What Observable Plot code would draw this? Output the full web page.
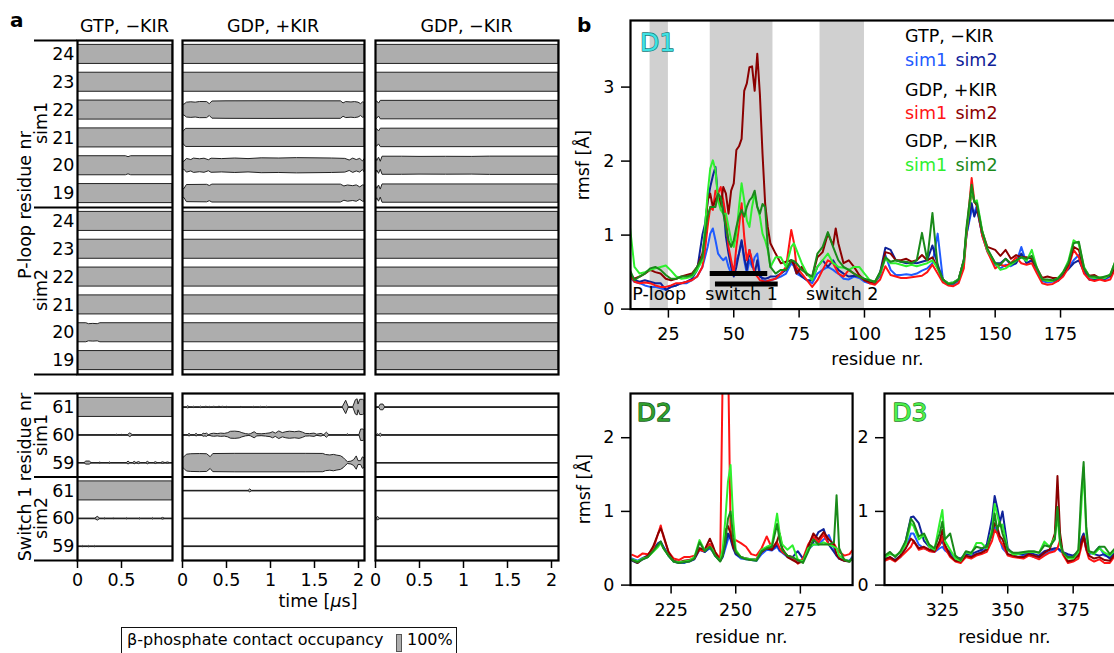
<!DOCTYPE html>
<html><head><meta charset="utf-8">
<script src="https://cdn.jsdelivr.net/npm/d3@7"></script>
<script src="https://cdn.jsdelivr.net/npm/@observablehq/plot@0.6"></script>
<style>
html,body{margin:0;padding:0;background:#fff;overflow:hidden;}
#fig{position:relative;width:1114px;height:653px;overflow:hidden;font-family:"DejaVu Sans",sans-serif;color:#000;background:#fff;}
#fig svg{position:absolute;}
.t{position:absolute;white-space:nowrap;line-height:1;font-size:17.5px;}
</style></head><body><div id="fig"></div>
<script>
// ---------------- DATA: panel a (beta-phosphate contact occupancy) ----------------
const sims = ["sim1", "sim2"];
const ploopResidues = [24, 23, 22, 21, 20, 19];
const switchResidues = [61, 60, 59];
const conditions = ["GTP, −KIR", "GDP, +KIR", "GDP, −KIR"];
const simLength = [1.08, 2.07, 2.08]; // µs
const timeTicks = [[0, 0.5], [0, 0.5, 1, 1.5, 2], [0, 0.5, 1, 1.5, 2]];

// [time µs, occupancy]; P-loop rows not listed = 100 % throughout, switch rows not listed = 0
const ploopOccGtp = {
  "sim1:20": [[0,1],[0.55,1],[0.58,0.9],[0.61,1],[1.08,1]],
  "sim2:20": [[0,1],[0.1,1],[0.13,0.9],[0.18,0.93],[0.23,0.9],[0.26,1],[1.08,1]]
};
const ploopOccKirPlus = {
  "sim1:22": [[0,0.72],[0.02,0.55],[0.05,0.78],[0.1,0.82],[0.15,0.78],[0.2,0.85],[0.28,0.84],[0.31,0.62],[0.34,0.9],[0.5,0.92],[1.0,0.93],[1.5,0.92],[1.8,0.92],[1.83,0.7],[1.86,0.84],[1.92,0.8],[1.96,0.84],[2.0,0.78],[2.03,0.62],[2.05,0.8],[2.07,0.78]],
  "sim1:21": [[0,0.6],[0.02,0.72],[0.04,0.95],[2.07,0.95]],
  "sim1:20": [[0,0.55],[0.02,0.4],[0.05,0.72],[0.1,0.6],[0.13,0.75],[0.2,0.68],[0.25,0.74],[0.3,0.58],[0.33,0.74],[0.45,0.7],[0.6,0.76],[0.75,0.7],[0.9,0.78],[1.1,0.76],[1.3,0.8],[1.5,0.78],[1.7,0.76],[1.85,0.72],[1.9,0.55],[1.94,0.75],[1.98,0.6],[2.02,0.72],[2.05,0.45],[2.07,0.7]],
  "sim1:19": [[0,0.55],[0.02,0.45],[0.05,0.9],[0.28,0.92],[0.31,0.8],[0.34,0.94],[1.8,0.94],[1.84,0.75],[1.88,0.85],[1.94,0.78],[1.98,0.86],[2.02,0.65],[2.05,0.85],[2.07,0.85]]
};
const ploopOccKirMinus = {
  "sim1:22": [[0,0.95],[0.02,0.9],[0.04,0.68],[0.06,0.97],[2.08,0.97]],
  "sim1:21": [[0,0.95],[0.02,0.9],[0.04,0.68],[0.06,0.97],[2.08,0.97]],
  "sim1:20": [[0,0.9],[0.02,0.5],[0.04,0.85],[0.06,0.42],[0.08,0.95],[0.3,0.95],[0.5,0.93],[0.8,0.94],[1.1,0.93],[1.3,0.96],[2.08,0.96]],
  "sim1:19": [[0,0.9],[0.02,0.5],[0.04,0.85],[0.06,0.42],[0.08,0.96],[2.08,0.96]]
};
const switchOccGtp = {
  "sim1:61": [[0,1],[1.08,1]],
  "sim1:60": [[0,0],[0.44,0],[0.45,0.06],[0.46,0],[0.5,0],[0.51,0.06],[0.52,0],[0.57,0],[0.6,0.2],[0.63,0],[1.08,0]],
  "sim1:59": [[0,0],[0.08,0],[0.1,0.16],[0.14,0.16],[0.16,0],[0.25,0],[0.26,0.07],[0.27,0],[0.36,0],[0.37,0.07],[0.38,0],[0.56,0],[0.58,0.16],[0.6,0],[0.63,0],[0.65,0.13],[0.67,0],[0.7,0.11],[0.72,0],[0.78,0],[0.8,0.13],[0.82,0],[0.87,0],[0.89,0.1],[0.91,0],[0.95,0],[0.97,0.09],[1.0,0],[1.03,0.07],[1.05,0],[1.08,0]],
  "sim2:61": [[0,1],[1.08,1]],
  "sim2:60": [[0,0],[0.2,0],[0.23,0.2],[0.26,0],[0.3,0],[0.31,0.07],[0.32,0],[0.4,0],[0.41,0.07],[0.42,0],[0.55,0],[0.56,0.07],[0.57,0],[0.7,0],[0.71,0.07],[0.72,0],[0.85,0],[0.86,0.08],[0.87,0],[0.95,0],[0.97,0.09],[1.0,0],[1.08,0]],
  "sim2:59": [[0,0],[0.05,0],[0.06,0.07],[0.07,0],[0.12,0],[0.13,0.07],[0.14,0],[0.19,0],[0.2,0.07],[0.21,0],[1.08,0]]
};
const switchOccKirPlus = {
  "sim1:61": [[0,0],[0.05,0],[0.065,0.14],[0.08,0],[0.12,0],[0.13,0.07],[0.14,0],[0.2,0],[0.21,0.08],[0.22,0],[0.26,0],[0.27,0.11],[0.28,0],[0.3,0],[0.31,0.07],[0.32,0],[0.35,0],[0.36,0.11],[0.37,0],[0.41,0],[0.42,0.11],[0.43,0],[0.45,0],[0.46,0.11],[0.47,0],[0.5,0],[0.51,0.09],[0.52,0],[0.66,0],[0.67,0.08],[0.68,0],[0.8,0],[0.81,0.07],[0.82,0],[0.88,0],[0.89,0.07],[0.9,0],[0.95,0],[0.96,0.07],[0.97,0],[1.82,0],[1.86,0.7],[1.89,0],[1.94,0],[1.97,0.75],[1.99,0.85],[2.0,0.3],[2.02,0.8],[2.05,0.8],[2.07,0.7]],
  "sim1:60": [[0,0],[0.06,0],[0.08,0.14],[0.1,0],[0.14,0],[0.16,0.14],[0.18,0],[0.22,0],[0.24,0.16],[0.26,0.12],[0.28,0.17],[0.3,0],[0.33,0.12],[0.36,0.16],[0.4,0.12],[0.44,0.17],[0.48,0.14],[0.52,0.22],[0.55,0.36],[0.6,0.38],[0.65,0.33],[0.68,0.22],[0.72,0.12],[0.76,0.07],[0.78,0.12],[0.82,0.32],[0.85,0.12],[0.9,0.1],[0.95,0.14],[1.0,0.2],[1.03,0.32],[1.06,0.17],[1.1,0.4],[1.14,0.22],[1.18,0.32],[1.22,0.37],[1.28,0.32],[1.33,0.38],[1.37,0.27],[1.4,0.14],[1.45,0.12],[1.5,0.17],[1.53,0.06],[1.58,0.14],[1.61,0],[1.64,0.27],[1.67,0],[1.87,0],[1.88,0.12],[1.89,0],[2.01,0],[2.03,0.6],[2.06,0.6],[2.07,0.5]],
  "sim1:59": [[0,0.45],[0.02,0.6],[0.05,0.88],[0.1,0.93],[0.2,0.95],[0.28,0.93],[0.32,0.62],[0.35,0.95],[0.6,0.97],[1.0,0.97],[1.4,0.97],[1.6,0.96],[1.63,0.85],[1.68,0.8],[1.72,0.86],[1.76,0.78],[1.8,0.72],[1.83,0.55],[1.85,0.35],[1.88,0.1],[1.92,0.15],[1.95,0.3],[1.98,0.7],[2.0,0.2],[2.03,0.2],[2.05,0.6],[2.07,0.5]],
  "sim2:61": [[0,0],[0.75,0],[0.77,0.16],[0.79,0],[2.07,0]]
};
const switchOccKirMinus = {
  "sim1:61": [[0,0],[0.04,0],[0.06,0.3],[0.09,0.3],[0.11,0],[2.08,0]],
  "sim1:60": [[0,0],[0.02,0],[0.03,0.12],[0.04,0],[0.06,0.16],[0.08,0],[2.08,0]],
  "sim2:60": [[0,0],[0.01,0],[0.03,0.2],[0.05,0],[2.08,0]]
};

// ---------------- DATA: panel b (rmsf, Å) ----------------
const d1Res = [10,12,14,16,18,20,22,24,26,28,30,32,34,36,38,
 39,40,41,42,43,44,45,46,47,48,49,50,51,52,53,54,55,56,57,58,59,60,61,62,63,64,
 66,68,70,72,73,74,76,78,80,82,84,86,88,89,90,92,94,96,98,100,102,104,
 106,108,110,112,114,116,118,120,122,124,126,128,130,132,134,136,138,
 139,141,142,143,145,147,
 150,152,154,156,158,160,162,164,166,168,170,172,174,176,178,180,182,184,186,188,190,192,194,196];
const d1GtpSim1 = [0.44,0.37,0.35,0.32,0.30,0.30,0.28,0.26,0.30,0.32,0.35,0.35,0.39,0.44,0.57,
 0.70,0.84,1.02,1.09,0.93,0.75,0.70,0.66,0.70,0.57,0.48,0.53,0.66,0.75,0.91,0.66,0.48,0.66,0.57,0.70,0.75,0.48,0.39,0.38,0.38,0.39,
 0.41,0.44,0.48,0.62,0.58,0.48,0.44,0.39,0.35,0.48,0.53,0.57,0.53,0.50,0.48,0.41,0.40,0.44,0.42,0.37,0.35,0.36,
 0.45,0.73,0.53,0.46,0.46,0.47,0.46,0.48,0.52,0.55,0.62,1.02,0.40,0.33,0.33,0.38,0.62,
 1.00,1.34,1.30,1.40,1.00,0.78,
 0.60,0.55,0.60,0.58,0.62,0.84,0.62,0.66,0.52,0.38,0.36,0.37,0.38,0.46,0.56,0.66,0.73,0.52,0.40,0.40,0.41,0.40,0.44,0.60];
const d1GtpSim2 = [0.48,0.39,0.37,0.39,0.37,0.35,0.35,0.26,0.30,0.32,0.35,0.37,0.41,0.53,1.00,
 1.15,1.45,1.65,1.80,1.92,1.50,1.47,1.43,0.98,0.75,0.57,0.44,0.57,0.75,0.93,0.70,0.53,0.80,0.62,0.48,0.66,0.44,0.42,0.41,0.42,0.44,
 0.44,0.48,0.53,0.66,0.62,0.53,0.44,0.39,0.39,0.57,0.66,0.57,0.66,0.60,0.53,0.48,0.44,0.45,0.44,0.39,0.35,0.36,
 0.50,0.83,0.80,0.66,0.64,0.62,0.63,0.62,0.64,0.66,0.86,0.60,0.40,0.35,0.36,0.40,0.66,
 1.00,1.43,1.25,1.35,1.02,0.80,
 0.62,0.62,0.68,0.60,0.62,0.75,0.62,0.66,0.55,0.40,0.38,0.38,0.40,0.48,0.54,0.62,0.66,0.50,0.40,0.40,0.42,0.41,0.46,0.62];
const d1KirPlusSim1 = [0.48,0.37,0.35,0.36,0.35,0.32,0.30,0.30,0.32,0.35,0.35,0.37,0.39,0.44,0.57,
 0.80,1.11,1.38,1.34,1.60,1.56,1.65,1.47,1.25,0.84,0.66,0.48,0.84,1.11,1.43,0.98,0.66,0.80,0.66,0.48,0.44,0.39,0.38,0.37,0.38,0.39,
 0.41,0.48,0.57,1.07,0.90,0.57,0.48,0.39,0.30,0.39,0.53,0.66,0.62,0.55,0.48,0.44,0.53,0.48,0.44,0.39,0.35,0.33,
 0.40,0.58,0.46,0.44,0.42,0.42,0.43,0.44,0.45,0.50,0.60,0.48,0.36,0.32,0.31,0.35,0.55,
 1.00,1.77,1.47,1.40,1.00,0.78,
 0.55,0.60,0.58,0.62,0.70,0.62,0.60,0.62,0.48,0.35,0.33,0.34,0.38,0.44,0.56,0.80,0.70,0.48,0.40,0.38,0.40,0.38,0.40,0.55];
const d1KirPlusSim2 = [0.48,0.41,0.44,0.48,0.53,0.50,0.48,0.41,0.39,0.41,0.44,0.46,0.48,0.57,0.75,
 1.00,1.47,1.56,1.38,1.47,1.56,1.38,1.65,1.56,1.29,1.60,1.70,2.15,2.20,2.30,2.95,3.05,3.27,3.28,2.95,3.45,2.90,2.10,1.43,1.11,0.89,
 0.75,0.62,0.64,0.66,0.60,0.48,0.57,0.46,0.44,0.70,0.77,1.02,0.86,1.09,0.89,0.62,0.66,0.57,0.46,0.39,0.37,0.36,
 0.48,0.77,0.75,0.66,0.66,0.68,0.64,0.66,0.73,0.66,0.70,0.55,0.40,0.35,0.35,0.40,0.66,
 1.05,1.60,1.45,1.40,1.05,0.84,
 0.80,0.72,0.80,0.68,0.73,0.70,0.70,0.68,0.55,0.42,0.44,0.42,0.42,0.48,0.60,0.84,0.80,0.55,0.45,0.46,0.42,0.43,0.45,0.58];
const d1KirMinusSim1 = [1.20,0.57,0.48,0.50,0.53,0.55,0.57,0.59,0.52,0.44,0.41,0.42,0.44,0.53,0.66,
 1.11,1.56,1.90,2.01,1.88,1.47,1.34,1.29,1.29,1.11,0.93,0.84,1.02,1.38,1.70,1.47,1.20,1.11,1.38,1.56,1.38,1.25,1.02,0.93,0.80,0.57,
 0.70,0.70,0.57,0.84,0.89,0.80,0.62,0.48,0.39,0.57,0.66,0.75,0.62,0.60,0.57,0.56,0.53,0.57,0.57,0.48,0.39,0.37,
 0.48,0.68,0.62,0.62,0.60,0.58,0.60,0.58,0.60,0.62,0.66,0.55,0.40,0.35,0.36,0.40,0.65,
 1.05,1.63,1.45,1.47,1.07,0.80,
 0.62,0.53,0.55,0.60,0.65,0.70,0.65,0.80,0.55,0.40,0.38,0.38,0.42,0.50,0.65,0.93,0.88,0.57,0.44,0.42,0.43,0.42,0.47,0.65];
const d1KirMinusSim2 = [0.55,0.39,0.44,0.48,0.55,0.57,0.53,0.46,0.41,0.41,0.44,0.44,0.46,0.57,0.70,
 1.00,1.25,1.38,1.38,1.38,1.56,1.51,1.29,1.11,0.93,0.84,0.93,1.11,1.25,1.34,1.25,1.38,1.47,1.51,1.60,1.38,1.29,1.42,1.38,0.84,0.57,
 0.48,0.53,0.53,0.66,0.65,0.62,0.53,0.48,0.44,0.75,0.84,1.04,0.84,0.75,0.66,0.57,0.53,0.48,0.44,0.41,0.39,0.37,
 0.50,0.70,0.64,0.66,0.64,0.64,0.62,0.66,1.03,0.66,1.30,0.57,0.40,0.34,0.35,0.40,0.66,
 1.10,1.68,1.45,1.43,1.05,0.82,
 0.62,0.60,0.68,0.62,0.66,0.70,0.68,0.72,0.55,0.40,0.40,0.39,0.41,0.50,0.62,0.89,0.91,0.55,0.44,0.44,0.42,0.44,0.46,0.65];

const d2Res = [210,212,214,216,218,220,221,222,224,226, 228,230,232,234,236,238,240,241,242,244,
 245,246,247,248,249,250,252,254,256,258, 260,262,264,266,267,268,270,272,274,276, 278,280,282,284,286,288,289,290,292,294, 295];
const d2GtpSim1 = [0.36,0.33,0.37,0.40,0.50,0.55,0.58,0.52,0.40,0.32, 0.31,0.30,0.33,0.36,0.50,0.45,0.50,0.46,0.40,0.33,
 0.38,0.50,0.62,0.70,0.55,0.42,0.36,0.35,0.34,0.33, 0.42,0.48,0.47,0.52,0.46,0.44,0.38,0.36,0.33,0.34, 0.48,0.55,0.55,0.62,0.68,0.50,0.40,0.36,0.34,0.33, 0.38];
const d2GtpSim2 = [0.33,0.30,0.35,0.38,0.48,0.57,0.59,0.52,0.40,0.32, 0.30,0.31,0.32,0.35,0.48,0.45,0.52,0.48,0.40,0.33,
 0.40,0.55,0.70,0.62,0.50,0.42,0.38,0.36,0.35,0.34, 0.45,0.50,0.48,0.55,0.48,0.45,0.40,0.38,0.46,0.36, 0.50,0.58,0.72,0.76,0.55,0.45,0.40,0.36,0.33,0.32, 0.36];
const d2KirPlusSim1 = [0.41,0.38,0.43,0.42,0.48,0.70,0.81,0.66,0.45,0.36, 0.34,0.38,0.38,0.40,0.48,0.46,0.56,0.52,0.45,0.36,
 3.00,3.40,3.20,0.75,0.60,0.61,0.57,0.52,0.42,0.40, 0.50,0.66,0.50,0.58,0.50,0.45,0.40,0.38,0.29,0.36, 0.55,0.66,0.58,0.68,0.55,0.56,0.50,0.45,0.40,0.42, 0.47];
const d2KirPlusSim2 = [0.34,0.30,0.36,0.40,0.52,0.70,0.77,0.68,0.45,0.33, 0.31,0.33,0.34,0.36,0.50,0.48,0.63,0.55,0.45,0.33,
 0.40,0.75,0.80,0.70,0.52,0.45,0.38,0.36,0.34,0.35, 0.45,0.50,0.48,0.60,0.70,0.50,0.38,0.34,0.30,0.32, 0.52,0.70,0.62,0.72,0.62,0.55,0.42,0.36,0.33,0.32, 0.36];
const d2KirMinusSim1 = [0.35,0.32,0.36,0.38,0.45,0.52,0.57,0.50,0.40,0.32, 0.31,0.32,0.33,0.38,0.61,0.47,0.52,0.48,0.40,0.33,
 0.50,0.90,1.40,1.63,0.90,0.48,0.38,0.36,0.35,0.34, 0.48,0.52,0.55,0.97,0.70,0.55,0.48,0.54,0.35,0.32, 0.50,0.55,0.55,0.58,0.55,0.52,0.50,0.40,0.35,0.32, 0.36];
const d2KirMinusSim2 = [0.34,0.31,0.35,0.38,0.46,0.55,0.59,0.50,0.40,0.32, 0.30,0.31,0.32,0.36,0.58,0.46,0.52,0.46,0.40,0.32,
 0.40,0.60,0.90,1.00,0.65,0.45,0.38,0.35,0.34,0.33, 0.46,0.50,0.52,0.83,0.60,0.48,0.40,0.38,0.34,0.30, 0.45,0.62,0.55,0.55,0.55,0.58,1.22,0.50,0.34,0.32, 0.36];

const d3Res = [303,305,307,309,311,313,314,316,318,320, 322,324,325,326,328,330,332,334,336,338,
 340,342,344,345,346,347,348,350,352,354, 356,358,360,362,364,366,368,369,370,371, 373,375,377,378,379,380,381,383,385,387, 389,391];
const d3GtpSim1 = [0.37,0.36,0.34,0.38,0.50,0.70,0.70,0.55,0.50,0.47, 0.45,0.50,0.52,0.47,0.42,0.36,0.34,0.38,0.40,0.42,
 0.45,0.50,0.70,0.79,0.72,0.62,0.50,0.42,0.40,0.38, 0.40,0.42,0.38,0.36,0.42,0.45,0.48,0.50,0.46,0.44, 0.40,0.38,0.42,0.60,0.66,0.48,0.42,0.44,0.52,0.40, 0.38,0.45];
const d3GtpSim2 = [0.35,0.38,0.34,0.40,0.60,0.92,0.93,0.84,0.60,0.52, 0.46,0.55,0.60,0.50,0.45,0.38,0.36,0.42,0.42,0.45,
 0.48,0.55,0.90,1.21,1.05,0.85,1.00,0.50,0.42,0.42, 0.42,0.44,0.42,0.40,0.46,0.48,0.50,0.50,0.48,0.45, 0.42,0.40,0.45,0.62,0.70,0.55,0.45,0.42,0.40,0.42, 0.36,0.45];
const d3KirPlusSim1 = [0.33,0.36,0.32,0.38,0.45,0.52,0.60,0.48,0.50,0.46, 0.45,0.55,0.66,0.50,0.38,0.32,0.30,0.38,0.36,0.40,
 0.42,0.45,0.60,0.75,0.70,0.60,0.55,0.40,0.38,0.37, 0.36,0.40,0.38,0.35,0.40,0.44,0.46,0.50,0.61,0.42, 0.30,0.32,0.36,0.50,0.66,0.48,0.36,0.32,0.35,0.30, 0.30,0.40];
const d3KirPlusSim2 = [0.35,0.38,0.33,0.40,0.50,0.63,0.60,0.50,0.52,0.48, 0.46,0.60,0.75,0.55,0.40,0.33,0.32,0.40,0.38,0.42,
 0.44,0.48,0.70,0.84,0.78,0.66,0.62,0.42,0.40,0.38, 0.38,0.42,0.40,0.38,0.44,0.48,0.70,1.48,0.70,0.45, 0.32,0.34,0.40,0.55,0.66,0.50,0.40,0.36,0.38,0.34, 0.33,0.42];
const d3KirMinusSim1 = [0.38,0.42,0.40,0.44,0.55,0.84,0.80,0.62,0.68,0.52, 0.48,0.85,1.02,0.60,0.48,0.36,0.33,0.45,0.42,0.57,
 0.57,0.50,0.75,1.10,0.95,0.80,0.82,0.48,0.42,0.42, 0.44,0.45,0.45,0.44,0.59,0.52,0.65,0.93,0.55,0.45, 0.36,0.36,0.45,1.00,1.60,0.70,0.45,0.42,0.50,0.44, 0.40,0.48];
const d3KirMinusSim2 = [0.40,0.45,0.38,0.46,0.60,0.90,0.85,0.66,0.70,0.55, 0.50,0.70,0.86,0.62,0.70,0.40,0.34,0.46,0.44,0.52,
 0.50,0.52,0.70,0.97,0.75,0.86,0.70,0.48,0.44,0.44, 0.45,0.46,0.46,0.44,0.54,0.52,0.62,1.06,0.60,0.45, 0.38,0.38,0.48,1.20,1.67,0.80,0.46,0.44,0.52,0.52, 0.42,0.50];

const regions = [{name: "P-loop", start: 18, end: 25}, {name: "switch 1", start: 41, end: 65}, {name: "switch 2", start: 83, end: 100}];
const switch1Bars = [{start: 41, end: 63, level: 0.48}, {start: 43, end: 67, level: 0.34}];

// ---------------- STYLE / LAYOUT ----------------
const seriesColors = ["#1f5bff", "#0f2299", "#ff1414", "#8b0000", "#2ef02e", "#1a8a1a"];
const GRAY = "#adadad";
const FS = 17.5;
const fig = document.getElementById("fig");
const plotStyle = {background: "none", overflow: "visible", fontFamily: "DejaVu Sans, sans-serif", fontSize: FS + "px", color: "#000"};
const fmt = d => String(d);

function place(svg, left, top) { svg.style.left = left + "px"; svg.style.top = top + "px"; fig.appendChild(svg); }
function el(html, size, bold, color) {
  const d = document.createElement("div");
  d.className = "t"; d.innerHTML = html;
  if (size) d.style.fontSize = size + "px";
  if (bold) d.style.fontWeight = "bold";
  if (color) d.style.color = color;
  fig.appendChild(d); return d;
}
function textB(html, x, baseline, o = {}) {
  const s = o.size || FS;
  const d = el(html, s, o.bold, o.color);
  d.style.left = x + "px"; d.style.top = (baseline - 0.846 * s) + "px";
  if (o.anchor === "middle") d.style.transform = "translateX(-50%)";
  return d;
}
function textC(html, cx, cy, o = {}) {
  const d = el(html, o.size || FS, o.bold, o.color);
  d.style.left = cx + "px"; d.style.top = cy + "px";
  d.style.transform = "translate(-50%,-50%)" + (o.rotate ? ` rotate(${o.rotate}deg)` : "");
  return d;
}

// ---------------- PANEL a ----------------
const PX_PER_US = 88;
const HALF = 0.342;
const colFrameLeft = [77, 182, 375];
const colFrameWidth = [95, 182, 183];
const ploopOcc = [ploopOccGtp, ploopOccKirPlus, ploopOccKirMinus];
const switchOcc = [switchOccGtp, switchOccKirPlus, switchOccKirMinus];

function occPlot(ci, isP) {
  const residues = isP ? ploopResidues : switchResidues;
  const n = residues.length;
  const rows = sims.flatMap((s, si) => residues.map((r, i) => ({sim: s, res: r, pos: si * n + i + 0.5})));
  const occ = (isP ? ploopOcc : switchOcc)[ci];
  const base = isP ? 1 : 0;
  const pts = rows.flatMap(row => {
    const k = `${row.sim}:${row.res}`;
    const series = occ[k] ?? [[0, base], [simLength[ci], base]];
    return series.map(([t, o]) => ({k, t, y1: row.pos - o * HALF, y2: row.pos + o * HALF}));
  });
  const ml = ci === 0 ? 77 : 4, mr = 4, mt = isP ? 40 : 4, mb = isP ? 4 : 40;
  const fh = isP ? 334 : 167;
  const marks = [
    Plot.ruleY(rows, {y: "pos", stroke: "#1a1a1a", strokeWidth: 1}),
    Plot.areaY(pts, {x: "t", y1: "y1", y2: "y2", z: "k", fill: GRAY, stroke: "#222", strokeWidth: 1, clip: true}),
    Plot.ruleY([n], {stroke: "#000", strokeWidth: 2.2}),
    Plot.frame({stroke: "#000", strokeWidth: 2.2})
  ];
  if (ci === 0) {
    marks.push(Plot.axisY(rows.map(r => r.pos), {tickSize: 0, tickPadding: 3, tickFormat: p => String(rows.find(r => r.pos === p).res), label: null}));
    marks.push(Plot.axisY([0, n, 2 * n], {tickSize: 43, tickFormat: () => "", strokeWidth: 2.2, label: null}));
  }
  if (!isP) marks.push(Plot.axisX(timeTicks[ci], {tickSize: 8, tickPadding: 5, strokeWidth: 1.5, tickFormat: fmt, label: null}));
  const svg = Plot.plot({
    width: ml + colFrameWidth[ci] + mr, height: mt + fh + mb,
    marginLeft: ml, marginRight: mr, marginTop: mt, marginBottom: mb,
    x: isP ? {domain: [0, colFrameWidth[ci] / PX_PER_US], axis: null} : {domain: [0, colFrameWidth[ci] / PX_PER_US]},
    y: ci === 0 ? {domain: [2 * n, 0]} : {domain: [2 * n, 0], axis: null},
    style: plotStyle,
    marks
  });
  place(svg, colFrameLeft[ci] - ml, (isP ? 40 : 393) - mt);
}
for (let ci = 0; ci < 3; ci++) { occPlot(ci, true); occPlot(ci, false); }

textB("a", 10, 26.7, {size: 20, bold: true});
conditions.forEach((c, ci) => textB(c, colFrameLeft[ci] + colFrameWidth[ci] / 2, 33.3, {anchor: "middle"}));
textC("P-loop residue nr", 26, 205, {rotate: -90});
textC("sim1", 42, 123, {rotate: -90});
textC("sim2", 42, 290, {rotate: -90});
textC("Switch 1 residue nr", 26, 476.5, {rotate: -90});
textC("sim1", 42, 435, {rotate: -90});
textC("sim2", 42, 518, {rotate: -90});
textC("time [<i>μ</i>s]", 318, 602);

// legend box
const box = document.createElement("div");
box.style.cssText = "position:absolute;left:121px;top:626.5px;width:336px;height:40px;border:1.5px solid #111;box-sizing:border-box;";
fig.appendChild(box);
textB("β-phosphate contact occupancy", 127, 645.5, {size: 16});
const sw = document.createElement("div");
sw.style.cssText = `position:absolute;left:396px;top:634px;width:6px;height:18px;background:${GRAY};border:1px solid #555;box-sizing:border-box;`;
fig.appendChild(sw);
textB("100%", 407, 645.5, {size: 16});

// ---------------- PANEL b ----------------
function seriesMarks(res, arrays) {
  return arrays.map((vals, i) => Plot.line(res.map((r, j) => ({r, v: vals[j]})), {x: "r", y: "v", stroke: seriesColors[i], strokeWidth: 2, strokeLinejoin: "round", clip: true}));
}
function domainLabel(txt, dx, dy, fill, stroke) {
  return Plot.text([txt], {frameAnchor: "top-left", textAnchor: "start", lineAnchor: "top", dx, dy, fontSize: 25, fill, stroke, strokeWidth: 1.3, paintOrder: "stroke"});
}

const d1 = Plot.plot({
  width: 50 + 495.4 + 5, height: 3 + 288.6 + 45,
  marginLeft: 50, marginRight: 5, marginTop: 3, marginBottom: 45,
  x: {domain: [10.5, 200]}, y: {domain: [0, 3.9]},
  style: plotStyle,
  marks: [
    Plot.rect(regions, {x1: "start", x2: "end", fill: "#d0d0d0"}),
    ...seriesMarks(d1Res, [d1GtpSim1, d1GtpSim2, d1KirPlusSim1, d1KirPlusSim2, d1KirMinusSim1, d1KirMinusSim2]),
    Plot.ruleY(switch1Bars, {x1: "start", x2: "end", y: "level", stroke: "#000", strokeWidth: 5}),
    Plot.text(regions, {x: d => (d.start + d.end) / 2, text: "name", frameAnchor: "bottom", dy: -9, fontSize: FS}),
    domainLabel("D1", 9.4, 13, "#3fe3e3", "#177a7a"),
    Plot.axisX([25, 50, 75, 100, 125, 150, 175], {tickSize: 9, tickPadding: 9, strokeWidth: 1.5, tickFormat: fmt, label: null}),
    Plot.axisY([0, 1, 2, 3], {tickSize: 9, tickPadding: 7, strokeWidth: 1.5, tickFormat: fmt, label: null}),
    Plot.frame({stroke: "#000", strokeWidth: 2.2})
  ]
});
place(d1, 580, 17.4);

const d2 = Plot.plot({
  width: 50 + 222.1 + 5, height: 3 + 191.6 + 45,
  marginLeft: 50, marginRight: 5, marginTop: 3, marginBottom: 45,
  x: {domain: [209.3, 295.2]}, y: {domain: [0, 2.6]},
  style: plotStyle,
  marks: [
    ...seriesMarks(d2Res, [d2GtpSim1, d2GtpSim2, d2KirPlusSim1, d2KirPlusSim2, d2KirMinusSim1, d2KirMinusSim2]),
    domainLabel("D2", 6.3, 9.7, "#2f9e2f", "#145a14"),
    Plot.axisX([225, 250, 275], {tickSize: 9, tickPadding: 9, strokeWidth: 1.5, tickFormat: fmt, label: null}),
    Plot.axisY([0, 1, 2], {tickSize: 9, tickPadding: 7, strokeWidth: 1.5, tickFormat: fmt, label: null}),
    Plot.frame({stroke: "#000", strokeWidth: 2.2})
  ]
});
place(d2, 580.4, 390.4);

const d3 = Plot.plot({
  width: 50 + 241 + 5, height: 3 + 191.6 + 45,
  marginLeft: 50, marginRight: 5, marginTop: 3, marginBottom: 45,
  x: {domain: [302.9, 395]}, y: {domain: [0, 2.6]},
  style: plotStyle,
  marks: [
    ...seriesMarks(d3Res, [d3GtpSim1, d3GtpSim2, d3KirPlusSim1, d3KirPlusSim2, d3KirMinusSim1, d3KirMinusSim2]),
    domainLabel("D3", 7.7, 9.7, "#4cf04c", "#1f7f1f"),
    Plot.axisX([325, 350, 375], {tickSize: 9, tickPadding: 9, strokeWidth: 1.5, tickFormat: fmt, label: null}),
    Plot.axisY([0, 1, 2], {tickSize: 9, tickPadding: 7, strokeWidth: 1.5, tickFormat: fmt, label: null}),
    Plot.frame({stroke: "#000", strokeWidth: 2.2})
  ]
});
place(d3, 834, 390.4);

textB("b", 577, 31.7, {size: 20, bold: true});
textC("rmsf [Å]", 584, 164.7, {rotate: -90});
textC("rmsf [Å]", 585, 489, {rotate: -90});
textC("residue nr.", 877.5, 360);
textC("residue nr.", 741.5, 637.5);
textC("residue nr.", 1004.5, 637.5);

// D1 legend
const legendRows = [
  {head: "GTP, −KIR", base: 43.3, c1: seriesColors[0], c2: seriesColors[1]},
  {head: "GDP, +KIR", base: 96.7, c1: seriesColors[2], c2: seriesColors[3]},
  {head: "GDP, −KIR", base: 148.3, c1: seriesColors[4], c2: seriesColors[5]}
];
legendRows.forEach(r => {
  textB(r.head, 905, r.base);
  textB("sim1", 905, r.base + 23.4, {color: r.c1});
  textB("sim2", 955.4, r.base + 23.4, {color: r.c2});
});
</script></body></html>
